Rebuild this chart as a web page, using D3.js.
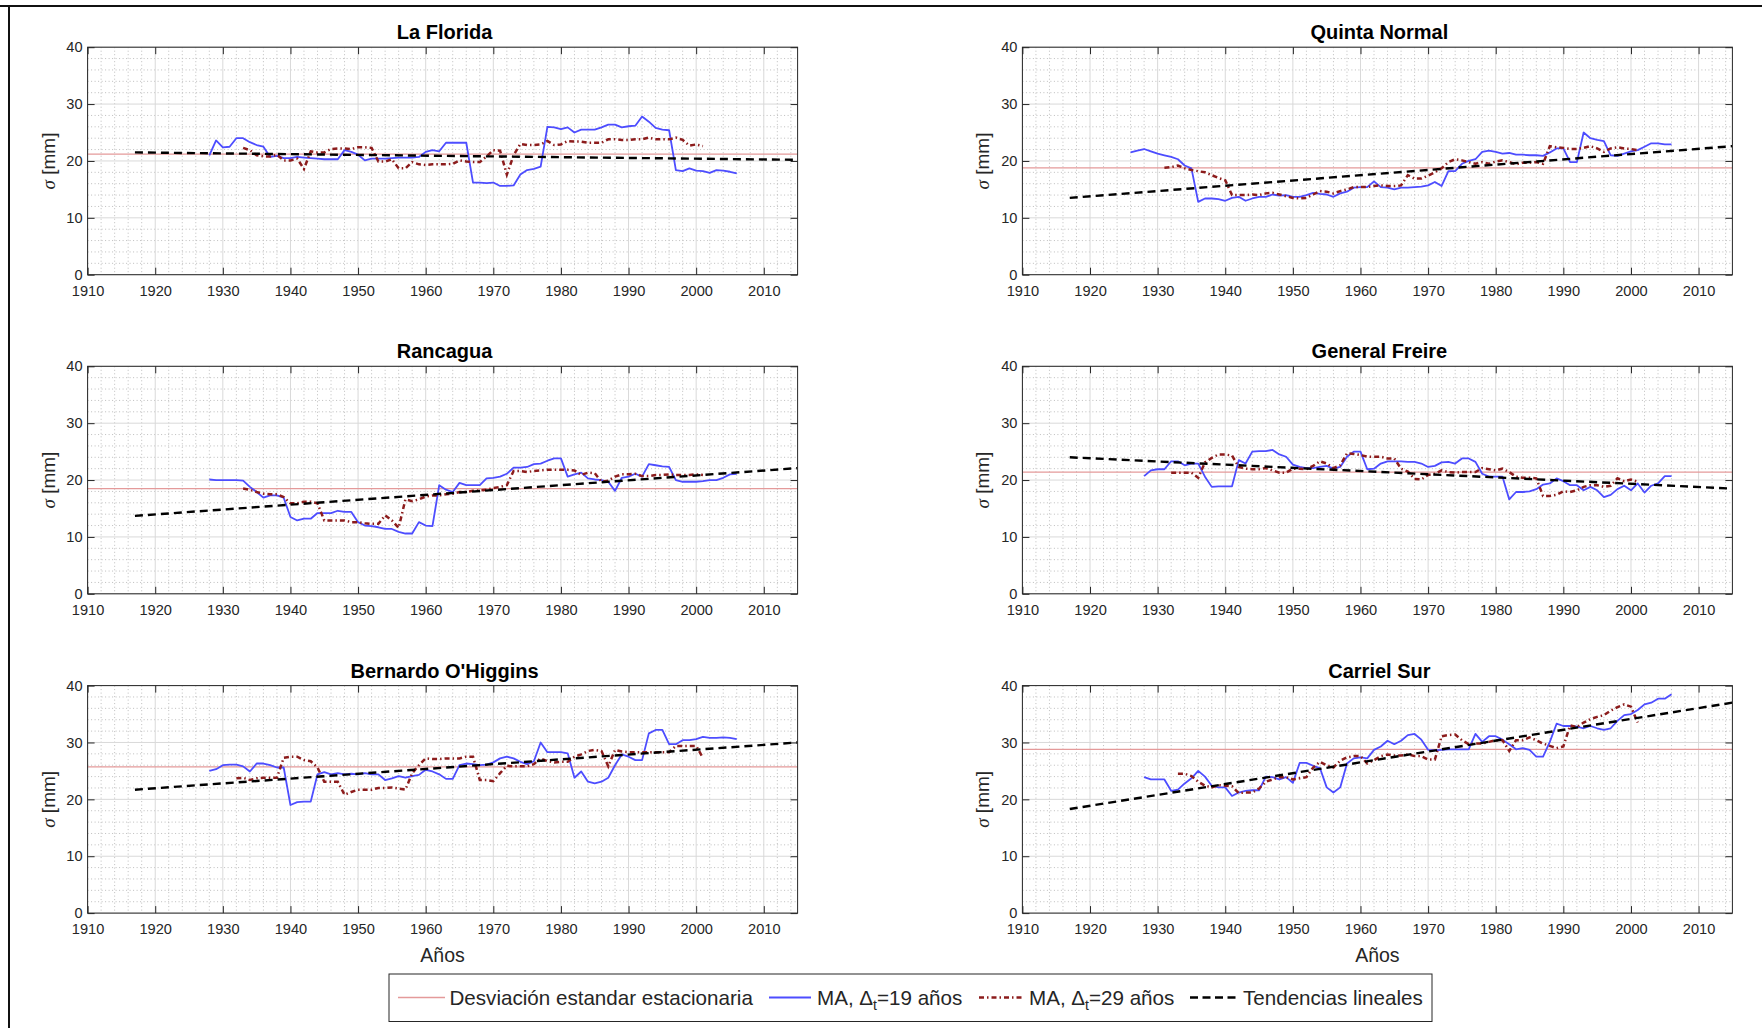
<!DOCTYPE html>
<html>
<head>
<meta charset="utf-8">
<script src="https://cdn.jsdelivr.net/npm/d3@7"></script>
<style>
  body { margin: 0; background: #fff; }
  svg { display: block; }
  text { font-family: "Liberation Sans", Arial, sans-serif; }
</style>
</head>
<body>
<svg id="fig" width="1762" height="1028"></svg>
<script>
// ---- data ----
var stations = ['La Florida', 'Quinta Normal', 'Rancagua', 'General Freire', "Bernardo O'Higgins", 'Carriel Sur']
var stationaryStd = [21.2, 18.8, 18.5, 21.4, 25.7, 28.8]
var trendYears = [1917, 2015]
var trendStart = [21.5, 13.5, 13.7, 24.0, 21.7, 18.3]
var trendEnd = [20.2, 22.6, 22.1, 18.5, 30.0, 37.0]
var xTicks = [1910, 1920, 1930, 1940, 1950, 1960, 1970, 1980, 1990, 2000, 2010]
var yTicks = [0, 10, 20, 30, 40]

var ma19First = [1928, 1926, 1928, 1928, 1928, 1928]
var ma29First = [1933, 1931, 1933, 1932, 1932, 1933]

var ma19LaFlorida = [21.0, 23.6, 22.4, 22.5, 24.0, 24.0, 23.3, 22.8, 22.5, 20.7,
  20.9, 20.5, 20.5, 20.7, 20.6, 20.5, 20.4, 20.3, 20.3, 20.3,
  21.9, 21.6, 21.1, 20.1, 20.4, 20.4, 20.4, 20.5, 20.6, 20.6,
  20.6, 20.7, 21.6, 21.9, 21.7, 23.2, 23.2, 23.2, 23.2, 16.2,
  16.2, 16.1, 16.2, 15.6, 15.6, 15.7, 17.6, 18.4, 18.6, 19.0,
  26.0, 25.9, 25.6, 25.9, 25.0, 25.5, 25.5, 25.5, 25.9, 26.4,
  26.4, 25.9, 26.1, 26.2, 27.8, 26.9, 25.8, 25.5, 25.4, 18.4,
  18.2, 18.7, 18.3, 18.2, 17.9, 18.4, 18.3, 18.1, 17.8]
var ma29LaFlorida = [22.3, 21.9, 21.0, 20.8, 20.8, 21.1, 20.1, 20.1, 20.4, 18.6,
  21.7, 21.5, 21.5, 22.1, 22.2, 22.2, 22.1, 22.4, 22.4, 22.3,
  19.9, 19.9, 20.3, 18.7, 18.7, 19.8, 19.4, 19.3, 19.4, 19.4,
  19.4, 19.5, 20.1, 19.9, 19.8, 19.8, 20.8, 21.9, 21.8, 17.6,
  21.0, 23.0, 22.8, 22.8, 22.9, 23.5, 22.8, 22.9, 23.5, 23.4,
  23.4, 23.2, 23.2, 23.2, 23.8, 23.8, 23.7, 23.7, 23.8, 23.8,
  24.1, 23.8, 23.8, 23.8, 24.1, 23.7, 22.7, 22.9, 22.6]

var ma19QuintaNormal = [21.5, 21.8, 22.1, 21.7, 21.3, 21.0, 20.7, 20.3, 19.2, 18.7,
  12.8, 13.4, 13.4, 13.3, 13.0, 13.5, 13.7, 13.0, 13.4, 13.7,
  13.7, 14.1, 13.9, 14.0, 13.7, 13.7, 14.0, 14.4, 14.2, 14.1,
  13.7, 14.3, 14.6, 15.3, 15.4, 15.4, 16.4, 15.4, 15.3, 15.0,
  15.3, 15.3, 15.4, 15.5, 15.7, 16.3, 15.6, 18.2, 18.2, 19.5,
  20.0, 20.3, 21.6, 21.8, 21.6, 21.3, 21.4, 21.1, 21.1, 21.0,
  21.0, 20.9, 21.5, 22.2, 22.2, 19.8, 19.8, 25.0, 24.0, 23.7,
  23.5, 21.0, 20.9, 21.3, 21.7, 21.9, 22.5, 23.1, 23.1, 22.9, 22.9]
var ma29QuintaNormal = [18.8, 18.9, 19.2, 18.7, 18.4, 18.2, 18.0, 17.5, 17.0, 16.6,
  14.0, 14.0, 14.0, 14.1, 14.0, 14.3, 14.4, 14.1, 13.8, 13.5,
  13.4, 13.5, 14.1, 14.7, 14.6, 14.3, 14.7, 15.0, 15.4, 15.4,
  15.4, 15.6, 15.7, 15.6, 15.6, 15.7, 17.5, 16.9, 16.9, 17.4,
  18.0, 18.7, 19.8, 20.3, 20.1, 19.8, 19.5, 19.8, 19.5, 19.9,
  20.1, 19.8, 19.4, 19.7, 19.7, 19.8, 19.5, 22.6, 22.4, 22.3,
  22.1, 22.1, 22.3, 22.6, 22.2, 21.6, 22.2, 22.4, 22.2, 22.1, 21.9]

var ma19Rancagua = [20.1, 20.0, 20.0, 20.0, 20.0, 19.9, 18.8, 17.9, 16.9, 17.3,
  17.3, 16.9, 13.5, 12.9, 13.2, 13.2, 14.2, 14.2, 14.2, 14.6,
  14.4, 14.4, 12.6, 12.0, 11.9, 11.7, 11.4, 11.4, 10.9, 10.6,
  10.6, 12.6, 12.0, 11.9, 19.1, 18.3, 17.9, 19.5, 19.1, 19.1,
  19.1, 20.3, 20.4, 20.6, 21.1, 22.2, 22.2, 22.3, 22.8, 22.9,
  23.4, 23.8, 23.8, 20.6, 21.0, 21.3, 20.3, 20.1, 20.0, 19.7,
  18.1, 20.4, 20.6, 21.1, 20.6, 22.8, 22.6, 22.4, 22.3, 20.0,
  19.7, 19.7, 19.7, 19.8, 20.0, 20.0, 20.4, 21.0, 21.1]
var ma29Rancagua = [18.5, 18.3, 17.9, 17.6, 17.5, 17.5, 17.0, 15.9, 15.9, 16.2,
  16.2, 15.9, 12.9, 12.9, 12.9, 12.9, 12.6, 12.6, 12.4, 12.3,
  12.3, 13.8, 12.9, 11.6, 16.6, 16.3, 16.6, 17.1, 17.3, 17.3,
  17.5, 17.6, 17.9, 17.9, 18.1, 18.2, 18.3, 18.6, 18.8, 19.1,
  21.6, 21.6, 21.4, 21.6, 21.7, 21.8, 21.8, 21.8, 21.8, 21.7,
  20.9, 21.3, 21.2, 19.7, 19.9, 20.6, 21.0, 21.0, 21.1, 20.7,
  20.7, 20.9, 20.9, 21.0, 20.9, 20.9, 20.9, 21.0, 20.9]

var ma19GeneralFreire = [20.7, 21.7, 21.9, 21.9, 23.3, 23.3, 22.6, 22.9, 22.9, 20.6,
  18.8, 18.9, 18.9, 18.9, 23.5, 22.9, 25.0, 25.1, 25.1, 25.3,
  24.5, 24.1, 22.7, 22.3, 22.1, 22.1, 22.3, 22.5, 22.0, 22.3,
  24.1, 25.0, 25.0, 21.9, 22.0, 22.9, 23.3, 23.3, 23.3, 23.2,
  23.2, 22.9, 22.3, 22.5, 23.1, 23.2, 22.9, 23.8, 23.8, 23.2,
  21.1, 20.6, 20.6, 20.6, 16.6, 17.9, 17.9, 18.0, 18.4, 19.2,
  19.4, 20.3, 19.8, 19.1, 19.1, 18.2, 18.8, 18.2, 17.0, 17.4,
  18.4, 19.0, 18.2, 19.4, 17.8, 19.0, 19.4, 20.7, 20.7]
var ma29GeneralFreire = [21.3, 21.3, 21.3, 21.3, 20.4, 23.1, 23.9, 24.5, 24.5, 24.3,
  22.3, 22.0, 21.9, 21.9, 22.1, 21.7, 21.3, 21.3, 22.0, 22.0,
  21.9, 22.5, 23.3, 22.9, 22.1, 22.6, 24.7, 24.6, 24.4, 24.1,
  24.1, 24.1, 23.8, 23.8, 22.0, 21.5, 20.2, 20.1, 20.9, 21.1,
  21.7, 21.4, 21.3, 21.4, 21.4, 21.4, 22.1, 21.9, 21.7, 22.0,
  21.4, 20.6, 20.4, 20.4, 20.3, 17.2, 17.2, 17.4, 18.0, 17.9,
  18.2, 18.8, 19.1, 19.1, 18.8, 19.0, 20.3, 19.8, 20.1, 19.7]

var ma19OHiggins = [25.0, 25.3, 26.0, 26.1, 26.1, 25.8, 24.9, 26.3, 26.3, 26.0,
  25.6, 25.6, 19.0, 19.5, 19.6, 19.6, 24.4, 24.8, 24.4, 24.6,
  24.4, 24.5, 24.4, 24.6, 24.4, 24.4, 23.4, 23.7, 24.1, 23.8,
  24.1, 24.3, 25.2, 24.9, 24.4, 23.6, 23.6, 26.0, 26.3, 26.2,
  26.0, 26.1, 26.5, 27.2, 27.5, 27.2, 26.6, 26.2, 26.7, 30.0,
  28.3, 28.3, 28.3, 28.1, 23.8, 24.9, 23.1, 22.8, 23.1, 23.8,
  26.0, 27.9, 27.5, 26.9, 26.9, 31.6, 32.2, 32.2, 29.7, 29.7,
  30.4, 30.4, 30.6, 31.0, 30.8, 30.8, 30.9, 30.8, 30.6]
var ma29OHiggins = [23.7, 23.8, 23.4, 23.7, 23.8, 23.8, 23.8, 27.3, 27.5, 27.5,
  26.9, 26.7, 25.6, 23.1, 23.1, 23.1, 20.8, 21.3, 21.7, 21.7,
  21.7, 22.0, 22.0, 22.1, 21.9, 21.7, 24.6, 26.0, 27.2, 27.1,
  27.1, 27.2, 27.2, 27.2, 27.5, 27.5, 23.4, 23.4, 23.2, 24.6,
  25.9, 25.8, 25.8, 25.8, 26.2, 27.2, 26.7, 26.5, 26.6, 26.6,
  27.5, 27.9, 28.5, 28.7, 28.5, 25.8, 28.7, 28.4, 28.3, 28.3,
  28.3, 28.3, 28.3, 28.3, 28.3, 29.4, 29.4, 29.4, 29.4, 27.3]

var ma19CarrielSur = [23.9, 23.5, 23.5, 23.5, 21.5, 21.7, 22.8, 23.7, 25.0, 24.0,
  22.4, 22.1, 22.1, 20.6, 21.2, 21.5, 21.6, 21.6, 24.0, 23.9,
  23.5, 23.9, 22.9, 26.4, 26.4, 25.9, 25.5, 22.1, 21.2, 22.1,
  26.3, 27.2, 27.4, 27.2, 28.7, 29.3, 30.3, 29.7, 30.3, 31.3,
  31.5, 30.5, 28.7, 28.6, 28.7, 28.8, 28.8, 28.8, 28.8, 31.5,
  30.1, 31.1, 31.1, 30.5, 29.7, 28.8, 29.0, 28.7, 27.5, 27.5,
  30.1, 33.3, 32.9, 32.9, 32.8, 32.5, 32.9, 32.5, 32.2, 32.5,
  33.8, 34.8, 35.0, 35.7, 36.7, 37.0, 37.7, 37.7, 38.5]
var ma29CarrielSur = [24.5, 24.5, 24.1, 23.1, 22.4, 22.1, 22.5, 22.4, 22.3, 21.1,
  21.2, 21.2, 21.9, 23.1, 23.5, 23.9, 23.9, 23.5, 23.7, 23.9,
  25.6, 26.6, 26.0, 25.6, 26.8, 27.4, 27.6, 27.6, 26.3, 26.9,
  27.6, 27.9, 27.7, 27.7, 27.9, 27.6, 27.6, 27.0, 27.0, 31.1,
  31.3, 31.4, 30.4, 29.7, 29.8, 29.8, 30.1, 30.4, 30.4, 28.5,
  30.4, 30.4, 30.9, 30.4, 29.8, 29.4, 29.0, 29.3, 33.0, 32.7,
  33.5, 34.1, 34.5, 34.8, 35.6, 36.2, 36.7, 36.3, 33.5]

var ma19 = [ma19LaFlorida, ma19QuintaNormal, ma19Rancagua, ma19GeneralFreire, ma19OHiggins, ma19CarrielSur]
var ma29 = [ma29LaFlorida, ma29QuintaNormal, ma29Rancagua, ma29GeneralFreire, ma29OHiggins, ma29CarrielSur]

// ---- styles ----
var C_STAT = '#e49a9a', C_MA19 = '#4d4dff', C_MA29 = '#8c1c1c', C_TREND = '#000'
var DASH_MA29 = '5,3,1.5,3', DASH_TREND = '8,5'
var C_AX = '#262626'

var svg = d3.select('#fig')
svg.append('rect').attr('width', 1762).attr('height', 1028).attr('fill', '#fff')
svg.append('line').attr('x1', 0).attr('x2', 1762).attr('y1', 6).attr('y2', 6)
  .attr('stroke', '#111').attr('stroke-width', 2)
svg.append('line').attr('x1', 9).attr('x2', 9).attr('y1', 6).attr('y2', 1028)
  .attr('stroke', '#111').attr('stroke-width', 2)

var colX = [87.6, 1022.4], rowY = [47.2, 366.3, 685.6]
var pw = 710, ph = 227.5

var x = d3.scaleLinear().domain([1910, 2015]).range([0, pw])
var y = d3.scaleLinear().domain([0, 40]).range([ph, 0])

var minorX = d3.range(1910, 2016, 2).filter(function(v) { return v % 10 !== 0 })
var minorY = d3.range(0, 41, 2).filter(function(v) { return v % 10 !== 0 })

var line = d3.line().x(function(d) { return x(d[0]) }).y(function(d) { return y(d[1]) })

function series(first, vals) {
  return vals.map(function(v, k) { return [first + k, v] })
}

stations.forEach(function(name, i) {
  var col = i % 2, row = Math.floor(i / 2)
  var g = svg.append('g').attr('transform', 'translate(' + colX[col] + ',' + rowY[row] + ')')

  var clipId = 'clip-' + i
  g.append('clipPath').attr('id', clipId)
    .append('rect').attr('width', pw).attr('height', ph)

  // minor grid
  g.selectAll('line.mgx').data(minorX).enter().append('line')
    .attr('x1', x).attr('x2', x).attr('y1', 0).attr('y2', ph)
    .attr('stroke', '#bdbdbd').attr('stroke-width', 1).attr('stroke-dasharray', '1,2.5')
  g.selectAll('line.mgy').data(minorY).enter().append('line')
    .attr('y1', y).attr('y2', y).attr('x1', 0).attr('x2', pw)
    .attr('stroke', '#bdbdbd').attr('stroke-width', 1).attr('stroke-dasharray', '1,2.5')

  // major grid
  g.selectAll('line.gx').data(xTicks).enter().append('line')
    .attr('x1', x).attr('x2', x).attr('y1', 0).attr('y2', ph)
    .attr('stroke', '#d9d9d9').attr('stroke-width', 1)
  g.selectAll('line.gy').data(yTicks).enter().append('line')
    .attr('y1', y).attr('y2', y).attr('x1', 0).attr('x2', pw)
    .attr('stroke', '#d9d9d9').attr('stroke-width', 1)

  var plot = g.append('g').attr('clip-path', 'url(#' + clipId + ')')

  plot.append('line')
    .attr('x1', 0).attr('x2', pw)
    .attr('y1', y(stationaryStd[i])).attr('y2', y(stationaryStd[i]))
    .attr('stroke', C_STAT).attr('stroke-width', 1.3)

  plot.append('path').datum(series(ma19First[i], ma19[i]))
    .attr('d', line).attr('fill', 'none')
    .attr('stroke', C_MA19).attr('stroke-width', 1.8).attr('stroke-linejoin', 'round')

  plot.append('path').datum(series(ma29First[i], ma29[i]))
    .attr('d', line).attr('fill', 'none')
    .attr('stroke', C_MA29).attr('stroke-width', 2.5)
    .attr('stroke-dasharray', DASH_MA29)

  plot.append('path').datum([[trendYears[0], trendStart[i]], [trendYears[1], trendEnd[i]]])
    .attr('d', line).attr('fill', 'none')
    .attr('stroke', C_TREND).attr('stroke-width', 2.4)
    .attr('stroke-dasharray', DASH_TREND)

  // axes, ticks pointing inward
  g.append('g').attr('transform', 'translate(0,' + ph + ')')
    .call(d3.axisBottom(x).tickValues(xTicks).tickFormat(d3.format('d'))
      .tickSizeInner(-7).tickSizeOuter(0).tickPadding(11))
  g.append('g')
    .call(d3.axisTop(x).tickValues(xTicks).tickFormat('').tickSizeInner(-7).tickSizeOuter(0))
  g.append('g')
    .call(d3.axisLeft(y).tickValues(yTicks).tickSizeInner(-7).tickSizeOuter(0).tickPadding(5))
  g.append('g').attr('transform', 'translate(' + pw + ',0)')
    .call(d3.axisRight(y).tickValues(yTicks).tickFormat('').tickSizeInner(-7).tickSizeOuter(0))

  g.selectAll('.domain').remove()
  g.selectAll('.tick line').attr('stroke', C_AX)
  g.selectAll('.tick text').attr('fill', C_AX)
    .style('font-family', '"Liberation Sans", Arial, sans-serif').style('font-size', '14.6px')

  g.append('rect').attr('width', pw).attr('height', ph)
    .attr('fill', 'none').attr('stroke', C_AX).attr('stroke-width', 1)

  g.append('text').attr('x', pw / 2 + 2).attr('y', -8)
    .attr('text-anchor', 'middle').attr('fill', '#000')
    .style('font-size', '20px').style('font-weight', 'bold')
    .text(name)

  var yl = g.append('text')
    .attr('transform', 'translate(-33,' + (ph / 2) + ') rotate(-90)')
    .attr('text-anchor', 'middle').attr('fill', C_AX)
    .style('font-size', '19px')
  yl.append('tspan').style('font-family', '"Liberation Serif", serif').style('font-style', 'italic').text('σ')
  yl.append('tspan').text(' [mm]')

  if (row === 2) {
    g.append('text').attr('x', pw / 2).attr('y', ph + 49)
      .attr('text-anchor', 'middle').attr('fill', C_AX)
      .style('font-size', '19.5px').text('Años')
  }
})

// ---- legend ----
var leg = svg.append('g')
leg.append('rect').attr('x', 389).attr('y', 974).attr('width', 1043).attr('height', 47.5)
  .attr('fill', '#fff').attr('stroke', C_AX).attr('stroke-width', 1)

var legY = 997.5
var legItems = [
  { x1: 398, x2: 445, tx: 449.5, color: C_STAT, width: 1.3, dash: null },
  { x1: 769, x2: 811, tx: 817, color: C_MA19, width: 1.8, dash: null },
  { x1: 979, x2: 1023, tx: 1029, color: C_MA29, width: 2.5, dash: DASH_MA29 },
  { x1: 1190, x2: 1237, tx: 1243, color: C_TREND, width: 2.4, dash: '8,4.5' }
]
legItems.forEach(function(it, k) {
  var l = leg.append('line').attr('x1', it.x1).attr('x2', it.x2).attr('y1', legY).attr('y2', legY)
    .attr('stroke', it.color).attr('stroke-width', it.width)
  if (it.dash) l.attr('stroke-dasharray', it.dash)
  var t = leg.append('text').attr('x', it.tx).attr('y', legY + 7)
    .attr('fill', C_AX).style('font-size', '20.6px')
  if (k === 0) t.text('Desviación estandar estacionaria')
  else if (k === 3) t.text('Tendencias lineales')
  else {
    t.append('tspan').text('MA, Δ')
    t.append('tspan').attr('dy', 5).style('font-size', '14px').text('t')
    t.append('tspan').attr('dy', -5).text(k === 1 ? '=19 años' : '=29 años')
  }
})
</script>
</body>
</html>
